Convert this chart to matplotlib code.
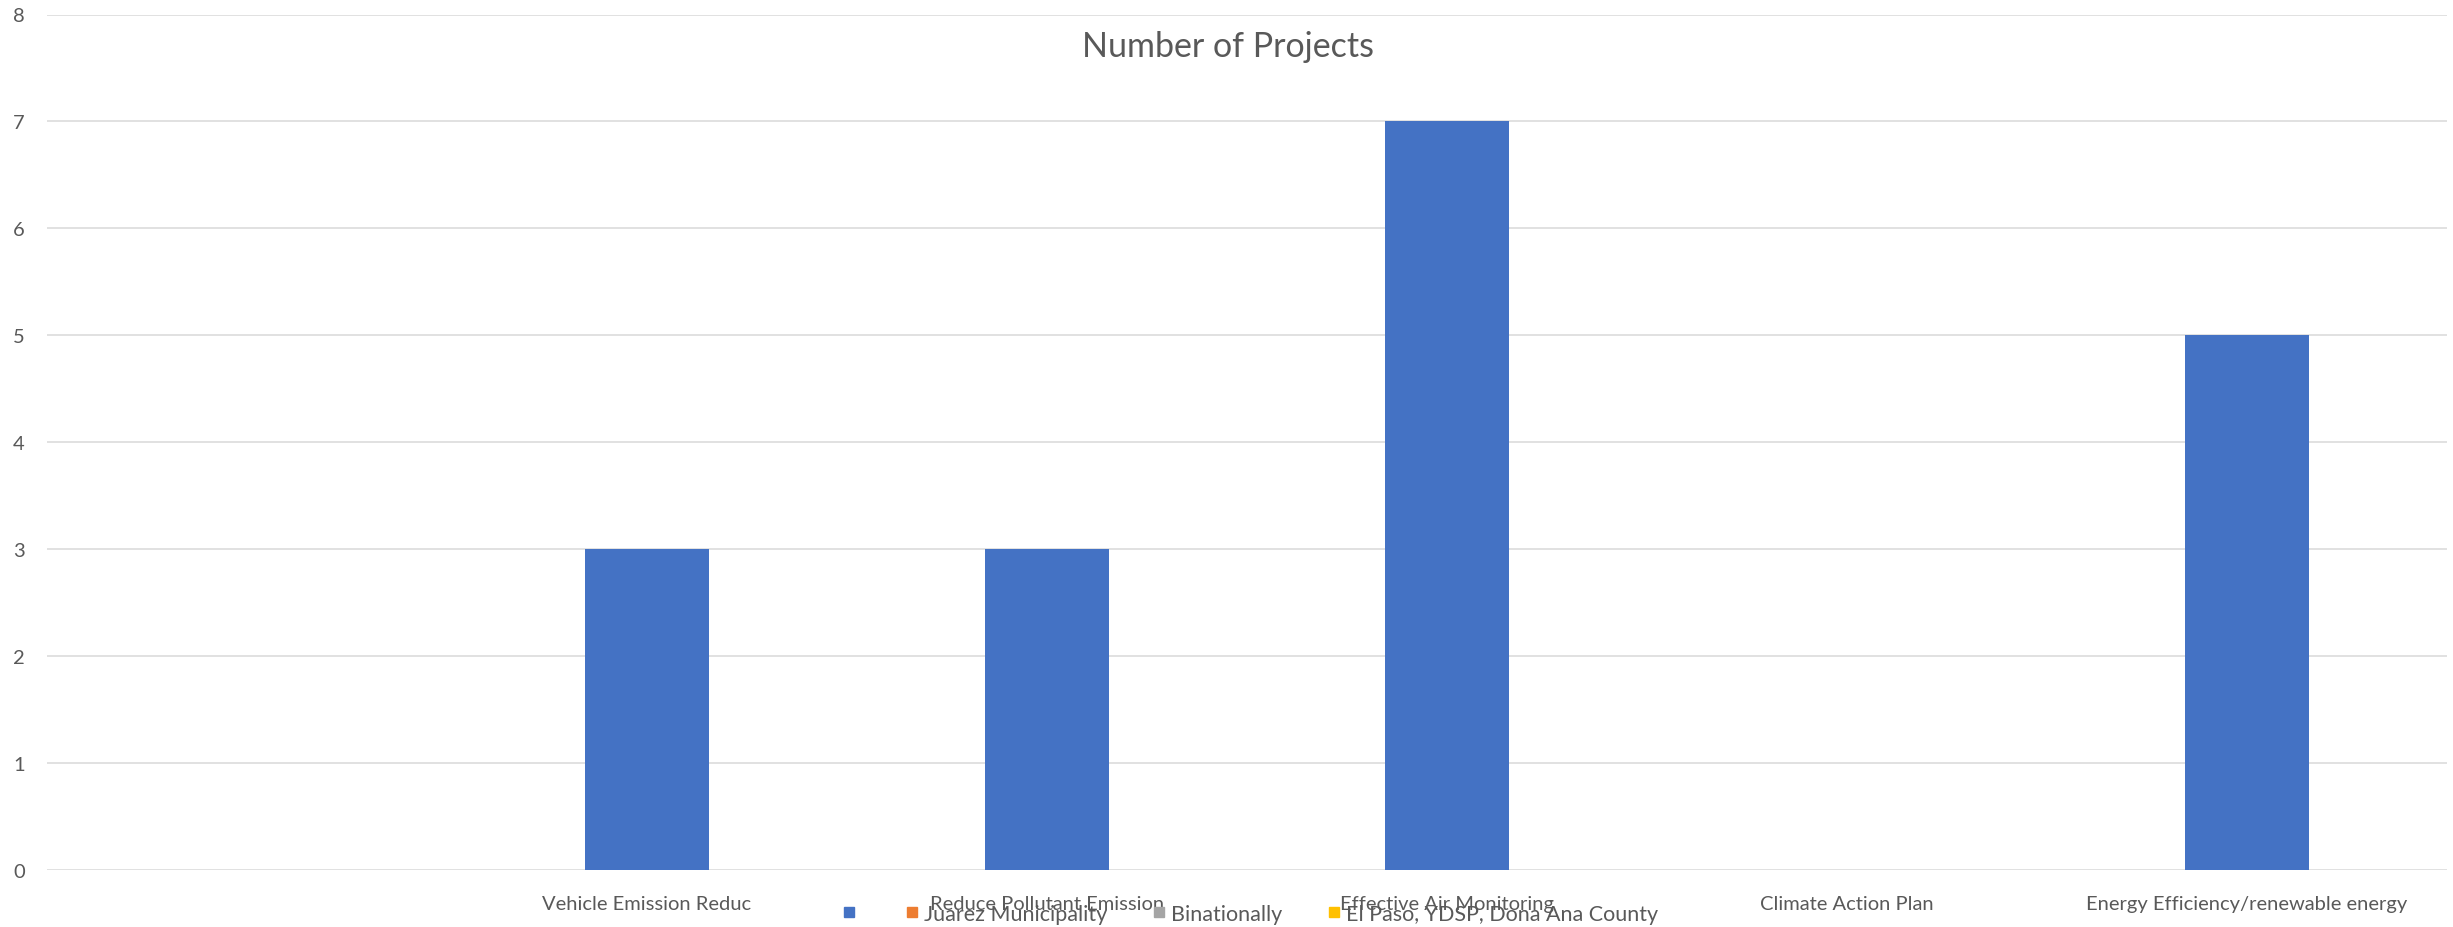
import matplotlib
matplotlib.use("Agg")
import matplotlib.pyplot as plt
from matplotlib.lines import Line2D

# chart data
categories = ["", "Vehicle Emission Reduc", "Reduce Pollutant Emission",
              "Effective Air Monitoring", "Climate Action Plan",
              "Energy Efficiency/renewable energy"]
projects = [0, 3, 3, 7, 0, 5]
series_names = ["", "Juarez Municipality", "Binationally", "El Paso, YDSP, Dona Ana County"]
series_colors = ["#4472C4", "#ED7D31", "#A5A5A5", "#FFC000"]
yticks = [0, 1, 2, 3, 4, 5, 6, 7, 8]

plt.rcParams['font.family'] = ['Lato', 'DejaVu Sans']
text_col = "#595959"

fig = plt.figure(figsize=(24.53, 9.28), dpi=100)
ax = fig.add_axes([47 / 2453, 1 - 871 / 928, 2400 / 2453, (871 - 15.5) / 928])

x = list(range(len(categories)))
ax.bar(x, projects, width=0.31, color=series_colors[0], zorder=3)

ax.set_xlim(-0.5, len(categories) - 0.5)
ax.set_ylim(0, 8)
ax.set_yticks(yticks)
ax.set_xticks(x)
ax.set_xticklabels(categories)
ax.tick_params(axis='both', length=0, labelsize=14.5, colors=text_col)
ax.tick_params(axis='y', pad=16)
ax.tick_params(axis='x', pad=18)
ax.grid(axis='y', color="#D9D9D9", linewidth=1.1, zorder=0)
for s in ax.spines.values():
    s.set_visible(False)

fig.text(0.5006, 1 - 47 / 928, "Number of Projects", ha='center', va='center',
         fontsize=24.5, color=text_col)

handles = [Line2D([], [], marker='s', linestyle='', color=c, markersize=6.5)
           for c in series_colors]
leg = fig.legend(handles, series_names, loc='center', ncol=4,
                 bbox_to_anchor=(1248 / 2453, 1 - 915 / 928), frameon=False,
                 fontsize=15.5, handletextpad=0.05, columnspacing=1.9,
                 handlelength=1.0)
for t in leg.get_texts():
    t.set_color(text_col)

fig.savefig("out.png", dpi=100)
